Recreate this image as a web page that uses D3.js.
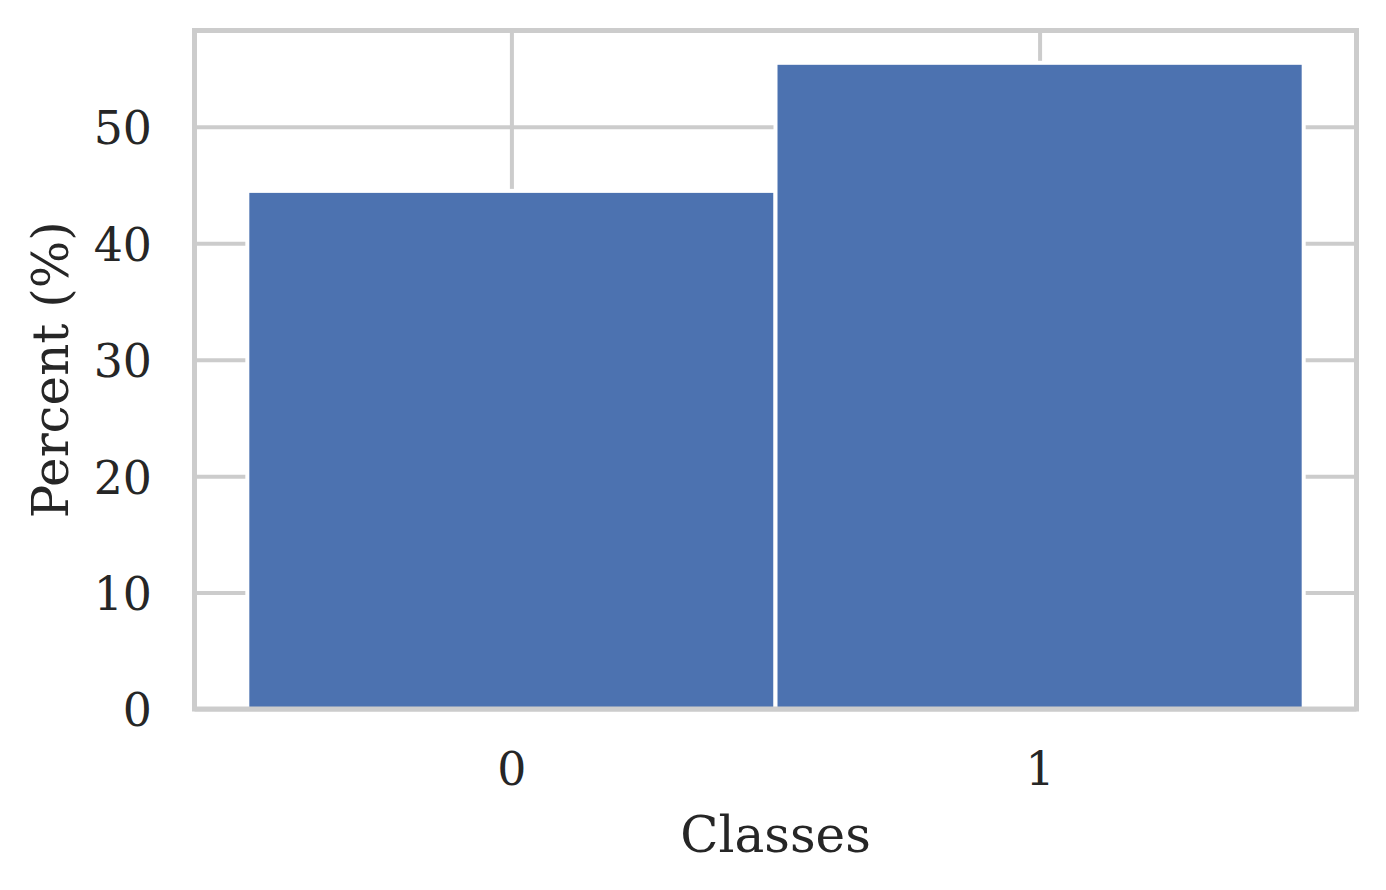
<!DOCTYPE html>
<html>
<head>
<meta charset="utf-8">
<script src="https://cdn.jsdelivr.net/npm/d3@7"></script>
<style>
  body { margin: 0; background: #fff; }
  svg { display: block; font-family: "DejaVu Serif", serif; }
</style>
</head>
<body>
<svg id="chart" width="1386" height="890"></svg>
<script>
// class labels and their share of samples (%)
const classes = [0, 1];
const percents = [44.5, 55.5];
const yTicks = [0, 10, 20, 30, 40, 50];

const width = 1386;
const height = 890;
const margin = { top: 30.5, right: 29.5, bottom: 181, left: 194.5 };
const innerW = width - margin.left - margin.right;
const innerH = height - margin.top - margin.bottom;

const svg = d3.select("#chart");
const g = svg.append("g").attr("transform", `translate(${margin.left},${margin.top})`);

// scales: bins of width 1 centered on each class, 5% margins like matplotlib
const x = d3.scaleLinear().domain([-0.6, 1.6]).range([0, innerW]);
const y = d3.scaleLinear().domain([0, d3.max(percents) * 1.05]).range([innerH, 0]);

const gridColor = "#cccccc";
const textColor = "#262626";

// y axis + horizontal grid
const yAxis = g.append("g")
  .call(d3.axisLeft(y).tickValues(yTicks).tickSize(-innerW).tickPadding(42.5));
yAxis.select(".domain").remove();
yAxis.selectAll(".tick line").attr("stroke", gridColor).attr("stroke-width", 4);
yAxis.selectAll(".tick text")
  .attr("fill", textColor)
  .attr("font-size", 45.8)
  .attr("font-family", "DejaVu Serif")
  .attr("dy", "0.37em");

// x axis + vertical grid
const xAxis = g.append("g")
  .attr("transform", `translate(0,${innerH})`)
  .call(d3.axisBottom(x).tickValues(classes).tickFormat(d3.format("d")).tickSize(-innerH).tickPadding(43));
xAxis.select(".domain").remove();
xAxis.selectAll(".tick line").attr("stroke", gridColor).attr("stroke-width", 4);
xAxis.selectAll(".tick text")
  .attr("fill", textColor)
  .attr("font-size", 45.8)
  .attr("font-family", "DejaVu Serif")
  .attr("dy", "0.71em");

// bars
g.selectAll("rect.bar")
  .data(classes)
  .join("rect")
  .attr("class", "bar")
  .attr("x", (d) => x(d - 0.5))
  .attr("width", (d) => x(d + 0.5) - x(d - 0.5))
  .attr("y", (d, i) => y(percents[i]))
  .attr("height", (d, i) => y(0) - y(percents[i]))
  .attr("fill", "#4c72b0")
  .attr("stroke", "#ffffff")
  .attr("stroke-width", 4);

// frame (spines)
g.append("rect")
  .attr("x", 0)
  .attr("y", 0)
  .attr("width", innerW)
  .attr("height", innerH)
  .attr("fill", "none")
  .attr("stroke", gridColor)
  .attr("stroke-width", 5);

// axis labels
svg.append("text")
  .attr("x", margin.left + innerW / 2)
  .attr("y", 851.5)
  .attr("text-anchor", "middle")
  .attr("font-size", 50)
  .attr("fill", textColor)
  .text("Classes");

svg.append("text")
  .attr("transform", `translate(68,${margin.top + innerH / 2}) rotate(-90)`)
  .attr("text-anchor", "middle")
  .attr("font-size", 50)
  .attr("fill", textColor)
  .text("Percent (%)");
</script>
</body>
</html>
